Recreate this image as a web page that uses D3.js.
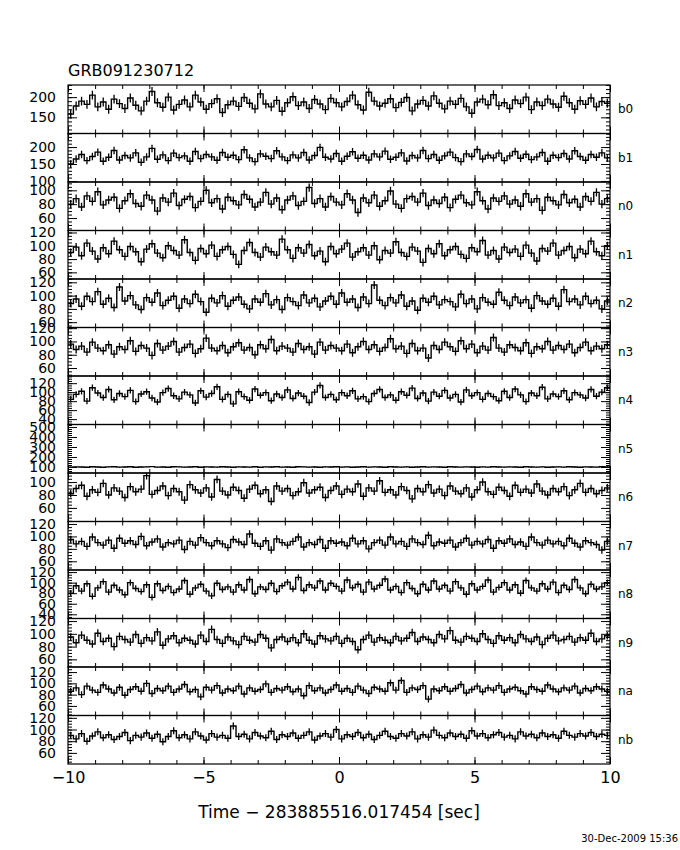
<!DOCTYPE html>
<html><head><meta charset="utf-8">
<script src="https://cdn.jsdelivr.net/npm/d3@7"></script>
<style>body{margin:0;background:#fff}svg{display:block}text{font-family:"DejaVu Sans",sans-serif;fill:#000}</style>
</head><body><svg id="c" width="680" height="850"></svg>
<script>
const title = "GRB091230712";
const xLabel = "Time \u2212 283885516.017454 [sec]";
const stamp = "30-Dec-2009 15:36";
const detectors = ["b0","b1","n0","n1","n2","n3","n4","n5","n6","n7","n8","n9","na","nb"];
const timeRange = [-10, 10];
const xTicks = [-10,-5,0,5,10];
const yDomains = [[110,230],[97,240],[42,112],[50,123],[52,125],[48,121],[28,136],[40,525],[39,114],[46,124],[32,124],[48,124],[43,129],[41,124]];
const yTicks = [[150,200],[100,150,200],[60,80,100],[60,80,100,120],[60,80,100,120],[60,80,100,120],[40,60,80,100,120],[100,200,300,400,500],[60,80,100],[60,80,100,120],[40,60,80,100,120],[60,80,100,120],[60,80,100,120],[60,80,100,120]];
const yMinorStep = [10,10,5,5,5,5,5,20,5,5,5,5,5,5];
const rateErr = [11,11,6,6,6,6,7,4,6,6,6,6,6,6];

const rate_b0 = [158,178,190,182,205,176,188,170,195,184,172,198,180,166,190,214,186,175,200,168,182,193,176,205,188,170,184,196,162,181,190,177,199,185,171,208,183,176,192,165,186,201,179,188,172,194,183,169,197,186,176,189,205,181,168,212,190,178,185,196,174,187,199,166,183,192,178,203,185,171,190,182,197,176,160,188,195,181,206,179,186,172,193,184,200,169,188,179,195,183,175,202,186,170,191,182,198,176,189,185];
const rate_b1 = [150,165,178,160,172,185,158,170,190,162,175,168,183,155,171,196,164,177,160,182,169,174,158,187,166,178,171,161,184,170,176,163,192,168,157,180,173,166,189,171,160,177,168,184,162,175,199,170,165,181,158,173,186,167,176,162,180,171,188,164,170,183,159,175,168,190,166,178,161,174,185,169,157,180,172,193,165,176,168,182,160,174,187,167,179,163,171,184,158,176,169,181,165,189,172,161,178,170,183,168];
const rate_n0 = [80,88,76,92,84,98,79,86,90,74,85,95,81,77,93,86,70,89,83,96,78,87,91,75,84,100,82,88,73,90,85,79,94,87,76,83,97,80,89,72,86,92,78,84,104,81,88,76,91,83,79,95,86,68,89,82,93,77,85,99,80,74,88,91,83,96,78,86,81,90,75,87,93,82,79,98,85,73,89,84,92,80,86,77,95,83,88,71,90,85,79,94,82,87,76,91,84,97,80,88];
const rate_n1 = [90,98,85,104,92,80,97,88,107,94,84,99,91,76,95,103,89,82,100,93,86,109,90,78,96,88,101,84,94,99,87,72,93,105,90,83,98,91,86,110,94,81,97,89,102,85,92,76,99,88,95,104,83,91,97,86,100,79,93,89,106,90,84,98,92,75,96,88,103,85,94,99,87,81,97,91,108,86,93,80,98,90,95,84,101,89,77,96,92,104,86,93,99,82,95,88,107,91,85,100];
const rate_n2 = [88,95,84,99,91,106,87,96,82,113,92,100,86,79,97,90,104,85,93,99,81,95,88,102,91,75,96,89,100,84,93,98,87,80,95,90,103,86,94,79,97,91,85,101,89,96,83,92,99,87,104,90,95,82,98,88,116,93,85,97,89,101,84,92,78,96,90,99,86,94,91,83,102,88,95,80,97,90,87,105,93,85,98,89,94,81,100,92,87,96,84,109,91,95,86,99,88,93,80,92];
const rate_n3 = [96,88,93,84,99,90,86,95,81,92,88,101,85,94,90,79,97,87,93,100,84,91,96,82,89,105,90,86,94,83,92,98,87,91,80,95,89,103,86,93,90,84,97,88,92,81,99,87,94,90,86,96,83,92,100,88,95,85,91,104,89,93,82,97,86,90,75,94,88,99,92,85,101,89,96,83,93,87,106,90,84,95,91,86,98,82,92,89,100,87,94,88,96,83,91,99,86,93,89,95];
const rate_n4 = [84,95,102,80,110,98,88,106,83,97,90,104,79,96,101,87,78,99,108,92,85,100,94,76,103,89,97,112,84,95,74,101,90,82,107,93,99,81,96,88,105,86,98,91,77,100,115,88,95,83,99,92,103,85,90,79,97,106,88,94,82,101,93,109,86,98,80,100,91,104,87,95,78,105,92,99,84,97,90,81,102,88,107,94,79,98,92,111,85,96,90,103,83,99,94,87,106,91,100,110];
const rate_n5 = [99,101,100,98,102,100,97,101,103,99,100,102,98,100,101,104,99,100,98,102,101,99,100,103,98,101,100,99,102,100,98,101,100,99,102,97,101,100,103,99,100,98,102,101,99,100,98,101,100,102,99,101,98,100,102,99,101,100,98,103,100,99,101,98,100,102,99,101,100,98,102,100,99,101,100,98,101,99,102,100,99,101,100,98,102,100,99,101,98,100,101,99,102,100,98,101,100,99,102,100];
const rate_n6 = [82,90,95,78,88,84,98,80,91,86,76,93,85,89,110,81,87,94,79,90,85,72,96,88,83,91,77,104,86,80,92,87,75,89,95,82,88,70,94,86,90,79,85,99,83,88,92,76,87,94,81,89,85,97,78,91,86,102,84,88,80,93,87,74,90,85,96,83,89,79,94,86,82,91,77,88,100,85,81,92,87,78,95,84,89,83,97,86,80,90,85,93,79,88,98,84,90,82,87,91];
const rate_n7 = [95,88,92,84,99,90,86,94,81,97,89,93,87,100,85,91,96,83,90,88,94,79,92,86,98,90,85,93,88,82,95,91,87,104,89,84,93,78,96,90,86,92,99,83,90,87,95,81,93,89,91,85,97,88,93,80,90,94,86,99,88,92,84,96,90,87,102,85,91,89,94,83,90,97,86,92,88,95,81,93,89,96,87,91,84,99,90,86,94,88,92,85,97,89,83,93,90,87,78,92];
const rate_n8 = [80,94,84,98,74,90,102,82,95,86,77,100,89,83,96,72,98,85,93,81,88,104,78,90,97,84,75,99,87,92,82,96,86,106,79,92,87,99,83,94,101,88,110,85,96,90,103,86,99,93,84,105,90,97,82,101,88,95,107,86,93,81,100,89,79,97,86,103,88,95,84,102,90,78,98,86,93,105,82,91,100,86,96,80,104,90,84,98,88,101,81,95,87,106,90,79,97,88,92,100];
const rate_n9 = [95,86,98,90,84,101,88,93,80,96,91,87,99,85,94,89,103,82,92,97,86,93,90,84,98,88,107,91,85,95,89,83,96,90,87,99,93,78,91,95,88,94,86,100,90,84,97,92,89,96,85,93,88,75,91,98,87,94,90,86,96,89,93,102,88,95,91,86,99,92,105,90,87,96,93,88,100,91,85,97,90,94,86,99,92,88,95,83,93,98,89,91,96,87,94,90,101,88,92,97];
const rate_na = [86,92,80,95,88,84,97,90,83,93,79,89,94,86,100,82,91,87,95,84,90,98,85,89,76,93,88,96,83,90,87,95,81,92,86,89,99,84,91,88,94,85,90,78,96,87,92,83,89,97,86,91,84,95,88,82,93,90,86,101,88,105,84,92,89,96,72,90,87,94,86,91,98,83,89,95,85,92,88,96,84,90,93,87,81,94,89,86,97,90,85,92,88,95,83,91,87,94,90,86];
const rate_nb = [90,84,93,80,89,96,86,91,83,88,95,81,90,87,94,85,92,79,88,98,86,91,84,96,89,82,93,87,90,85,106,88,92,84,95,89,86,97,83,91,88,94,85,90,96,82,89,93,87,100,84,91,88,95,86,92,83,90,97,88,85,93,89,96,84,91,87,99,90,86,94,88,92,85,98,89,93,86,91,95,87,90,84,96,89,92,86,94,88,91,85,97,90,87,93,89,95,88,92,90];
const rates = [rate_b0,rate_b1,rate_n0,rate_n1,rate_n2,rate_n3,rate_n4,rate_n5,rate_n6,rate_n7,rate_n8,rate_n9,rate_na,rate_nb];

const svg = d3.select("#c");
const L = 68, R = 610, T = 85, B = 764;
const ph = (B - T) / detectors.length;
const x = d3.scaleLinear().domain(timeRange).range([L, R]);
const minorX = d3.range(timeRange[0], timeRange[1] + 1, 1);

svg.append("text").attr("x", L).attr("y", 76).attr("font-size", 16).text(title);

detectors.forEach((det, i) => {
  const y0 = T + i * ph, y1 = y0 + ph;
  const y = d3.scaleLinear().domain(yDomains[i]).range([y1, y0]);
  const g = svg.append("g");
  const cid = "clip" + i;
  g.append("clipPath").attr("id", cid).append("rect").attr("x", L).attr("y", y0).attr("width", R - L).attr("height", ph);
  const vals = rates[i];
  const bw = (timeRange[1] - timeRange[0]) / vals.length;
  const pts = vals.map((v, k) => [timeRange[0] + k * bw, v]);
  pts.push([timeRange[1], vals[vals.length - 1]]);
  const line = d3.line().x(d => x(d[0])).y(d => y(d[1])).curve(d3.curveStepAfter);
  const dg = g.append("g").attr("clip-path", `url(#${cid})`);
  dg.append("path").attr("d", line(pts))
    .attr("fill", "none").attr("stroke", "#000").attr("stroke-width", 1.4);
  dg.selectAll("line.err").data(vals).join("line").attr("class", "err")
    .attr("x1", (v, k) => x(timeRange[0] + (k + 0.5) * bw)).attr("x2", (v, k) => x(timeRange[0] + (k + 0.5) * bw))
    .attr("y1", v => y(v - rateErr[i])).attr("y2", v => y(v + rateErr[i]))
    .attr("stroke", "#000").attr("stroke-width", 1.3);
  const [d0, d1] = yDomains[i];
  const st = yMinorStep[i];
  const minorY = d3.range(Math.ceil(d0 / st) * st, d1 + 0.001, st);
  const styleAx = sel => { sel.select(".domain").remove(); sel.selectAll("line").attr("stroke", "#000").attr("stroke-width", 1); };
  g.append("g").attr("transform", `translate(${L},0)`).call(d3.axisLeft(y).tickValues(minorY).tickSize(-4).tickFormat("")).call(styleAx);
  g.append("g").attr("transform", `translate(${R},0)`).call(d3.axisRight(y).tickValues(minorY).tickSize(-4).tickFormat("")).call(styleAx);
  const la = g.append("g").attr("transform", `translate(${L},0)`)
    .call(d3.axisLeft(y).tickValues(yTicks[i]).tickSize(-9).tickPadding(12).tickFormat(d3.format("d"))).call(styleAx);
  la.selectAll("text").attr("font-size", 14).attr("font-family", "DejaVu Sans").attr("fill", "#000");
  g.append("g").attr("transform", `translate(${R},0)`).call(d3.axisRight(y).tickValues(yTicks[i]).tickSize(-9).tickFormat("")).call(styleAx);
  g.append("g").attr("transform", `translate(0,${y0})`).call(d3.axisTop(x).tickValues(minorX).tickSize(-4).tickFormat("")).call(styleAx);
  g.append("g").attr("transform", `translate(0,${y1})`).call(d3.axisBottom(x).tickValues(minorX).tickSize(-4).tickFormat("")).call(styleAx);
  g.append("g").attr("transform", `translate(0,${y0})`).call(d3.axisTop(x).tickValues(xTicks).tickSize(-7).tickFormat("")).call(styleAx);
  const bx = g.append("g").attr("transform", `translate(0,${y1})`)
    .call(d3.axisBottom(x).tickValues(xTicks).tickSize(-7).tickPadding(8).tickFormat(i === detectors.length - 1 ? d3.format("d") : () => "")).call(styleAx);
  bx.selectAll("text").attr("font-size", 16).attr("font-family", "DejaVu Sans").attr("fill", "#000");
  g.append("rect").attr("x", L).attr("y", y0).attr("width", R - L).attr("height", ph)
    .attr("fill", "none").attr("stroke", "#000").attr("stroke-width", 1.2);
  svg.append("text").attr("x", 618).attr("y", (y0 + y1) / 2).attr("dy", "0.35em").attr("font-size", 12).text(det);
});

svg.append("text").attr("x", (L + R) / 2).attr("y", 818).attr("text-anchor", "middle").attr("font-size", 17).text(xLabel);
svg.append("text").attr("x", 678).attr("y", 842).attr("text-anchor", "end").attr("font-size", 10).text(stamp);
</script></body></html>
